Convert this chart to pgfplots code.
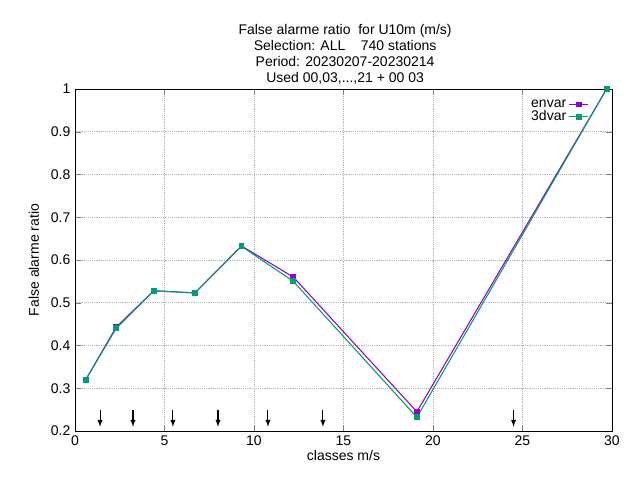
\documentclass[border=0pt]{standalone}
\usepackage{pgfplots}
\pgfplotsset{compat=1.18}
\usepackage{fontspec}
\setmainfont{Liberation Sans}
\definecolor{cenvar}{RGB}{148,0,211}
\definecolor{cthree}{RGB}{0,158,115}
\begin{document}
\begin{tikzpicture}
\useasboundingbox (-56.25pt,-36.75pt) rectangle (423.75pt,323.25pt);
\begin{axis}[
  at={(0,0)}, anchor=south west, scale only axis,
  width=402.75pt, height=256.5pt,
  xmin=0, xmax=30, ymin=0.2, ymax=1,
  xtick={0,5,...,30}, ytick={0.2,0.3,...,1.0},
  yticklabel style={/pgf/number format/fixed,/pgf/number format/precision=1},
  /pgf/number format/assume math mode=true,
  tick label style={font=\fontsize{10.5}{12}\selectfont},
  label style={font=\fontsize{10.5}{12}\selectfont},
  grid=major, grid style={gray!60, densely dotted},
  tick align=inside, xtick pos=both, ytick pos=both,
  xlabel={classes m/s}, ylabel={False alarme ratio},
  xlabel style={yshift=3pt}, ylabel style={yshift=2pt},
  legend style={draw=none, fill=none, at={(0.965,0.985)}, anchor=north east, font=\fontsize{10.5}{12}\selectfont, row sep=-3pt},
  legend cell align=right, legend plot pos=right,
  legend image code/.code={\draw[#1] (0cm,0cm) -- (0.5cm,0cm); \draw[#1,only marks] plot coordinates {(0.25cm,0cm)};},
  clip=false,
]
\addplot[cenvar, thick, mark=square*, mark size=1.8pt] coordinates {
(0.6,0.32)(2.3,0.443)(4.4,0.528)(6.7,0.523)(9.3,0.633)(12.2,0.56)(19.1,0.245)(29.7,1.0)};
\addlegendentry{envar}
\addplot[cthree, thick, mark=square*, mark size=1.8pt] coordinates {
(0.6,0.32)(2.3,0.44)(4.4,0.528)(6.7,0.523)(9.3,0.632)(12.2,0.55)(19.1,0.232)(29.7,1.0)};
\addlegendentry{3dvar}
\addplot[black, thick, -latex, quiver={u=0,v=\thisrow{v}}, forget plot] table {
x y v
1.40 0.25 -0.04
3.24 0.25 -0.04
5.47 0.25 -0.04
7.99 0.25 -0.04
10.78 0.25 -0.04
13.85 0.25 -0.04
24.5 0.25 -0.04
};
\node[align=center, font=\fontsize{10.5}{12}\selectfont, anchor=south] at (rel axis cs:0.503,1.0) {False alarme ratio\ \ for U10m (m/s)\\Selection: ALL\ \ \ \ 740 stations\\Period: 20230207-20230214\\Used 00,03,...,21 + 00 03};
\end{axis}
\end{tikzpicture}
\end{document}
